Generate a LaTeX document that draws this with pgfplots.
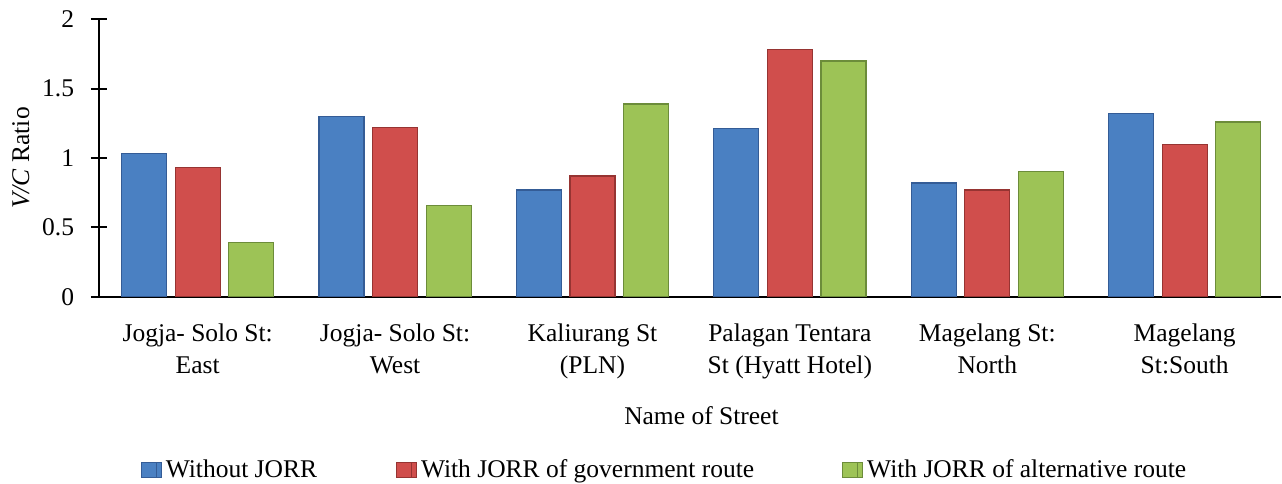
\documentclass[border=0pt]{standalone}
\usepackage{pgfplots}
\pgfplotsset{compat=1.18}
\usepackage{fontspec}
\setmainfont{Liberation Serif}
\definecolor{bmain}{RGB}{74,128,194}
\definecolor{bdark}{RGB}{52,92,150}
\definecolor{rmain}{RGB}{208,78,76}
\definecolor{rdark}{RGB}{150,52,50}
\definecolor{gmain}{RGB}{157,195,86}
\definecolor{gdark}{RGB}{108,140,58}
\newcommand{\cf}{\fontsize{12.75}{16.15}\selectfont}
\pgfplotsset{
  sqleg/.style={legend image code/.code={\path (0,0) rectangle (10pt,7.2pt); \draw[##1, line width=0.4pt] (0pt,0pt) rectangle (7.5pt,7.2pt);}},
}
\begin{document}
\begin{tikzpicture}
\begin{axis}[
  name=ax,
  scale only axis,
  width=591.2pt, height=138.7pt,
  xmin=-0.5, xmax=5.49,
  ymin=0, ymax=2,
  axis x line=bottom, axis y line=left,
  axis line style={-, line width=1.2pt, black},
  xtick={0,1,2,3,4,5},
  xticklabels={Jogja- Solo St:\\East, Jogja- Solo St:\\West, Kaliurang St\\(PLN), Palagan Tentara\\St (Hyatt Hotel), Magelang St:\\North, Magelang\\St:South},
  xtick style={draw=none},
  ytick={0,0.5,1,1.5,2},
  ytick style={line width=1pt, black},
  tick align=center,
  major tick length=8pt,
  /pgf/number format/assume math mode=true,
  tick label style={font=\cf},
  xticklabel style={align=center, anchor=base, inner sep=0pt, yshift=-34.3pt},
  yticklabel style={anchor=east, inner sep=0pt, xshift=-8.25pt},
  ylabel={\textit{V/C} Ratio},
  ylabel style={font=\cf, at={(axis description cs:-0.066,0.5)}, anchor=center},
  xlabel={Name of Street},
  xlabel style={font=\cf, at={(axis description cs:0.5095,-0.4589)}, anchor=base},
  legend columns=3,
  legend style={draw=none, fill=none, font=\cf, inner sep=0pt, outer sep=0pt,
    at={(axis description cs:0.0352,-0.5716)}, anchor=north west,
    cells={anchor=base west, inner sep=0pt},
    /tikz/every odd column/.append style={column sep=0pt},
    /tikz/every even column/.append style={column sep=0pt}},
  clip=false,
]
\addplot[ybar, sqleg, bar width=0.228, bar shift=-0.2715, fill=bmain, draw=bdark, line width=0.6pt]
  coordinates {(0,1.03) (1,1.30) (2,0.77) (3,1.21) (4,0.82) (5,1.32)};
\addlegendentry{\makebox[113pt][l]{Without JORR}}
\addplot[ybar, sqleg, bar width=0.228, bar shift=0, fill=rmain, draw=rdark, line width=0.6pt]
  coordinates {(0,0.93) (1,1.22) (2,0.87) (3,1.78) (4,0.77) (5,1.10)};
\addlegendentry{\makebox[208.5pt][l]{With JORR of government route}}
\addplot[ybar, sqleg, bar width=0.228, bar shift=0.2715, fill=gmain, draw=gdark, line width=0.6pt]
  coordinates {(0,0.39) (1,0.66) (2,1.39) (3,1.70) (4,0.90) (5,1.26)};
\addlegendentry{With JORR of alternative route}
\end{axis}
\pgfresetboundingbox
\path (ax.south west) ++(-49.5pt,-93.15pt) rectangle ++(641pt,241.5pt);
\end{tikzpicture}
\end{document}
